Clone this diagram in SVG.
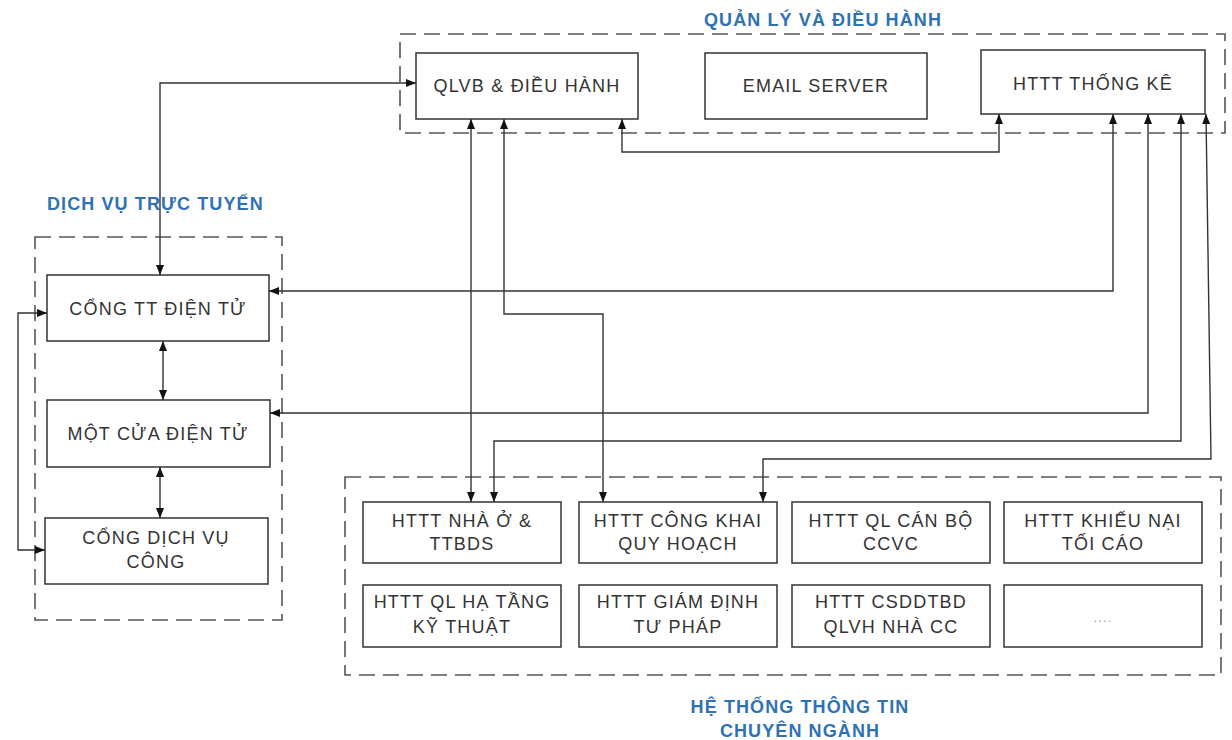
<svg xmlns="http://www.w3.org/2000/svg" width="1232" height="740" viewBox="0 0 1232 740">
<style>
.grp{fill:none;stroke:#555;stroke-width:1.6;stroke-dasharray:16 8}
.box{fill:#fff;stroke:#333;stroke-width:1.5}
.t{font-family:"Liberation Sans",Arial,sans-serif;font-size:18px;fill:#333;text-anchor:middle;letter-spacing:1.2px}
.ttl{font-family:"Liberation Sans",Arial,sans-serif;font-size:18px;font-weight:bold;fill:#2f72b4;letter-spacing:1.1px}
.c{fill:none;stroke:#333;stroke-width:1.4;marker-start:url(#a);marker-end:url(#a)}
</style>
<defs>
<marker id="a" viewBox="0 0 10 8" refX="10" refY="4" markerWidth="10" markerHeight="8" markerUnits="userSpaceOnUse" orient="auto-start-reverse">
<path d="M0,0 L10,4 L0,8 z" fill="#111"/>
</marker>
</defs>
<rect width="1232" height="740" fill="#fff"/>

<g id="group-quanly">
<rect class="grp" x="400" y="34" width="825" height="99"/>
<text class="ttl" x="823" y="26" text-anchor="middle">QUẢN LÝ VÀ ĐIỀU HÀNH</text>
</g>
<g id="group-dichvu">
<rect class="grp" x="35" y="237" width="247" height="383"/>
<text class="ttl" x="47" y="210">DỊCH VỤ TRỰC TUYẾN</text>
</g>
<g id="group-htttcn">
<rect class="grp" x="345" y="477" width="876" height="198"/>
<text class="ttl" x="800" y="713" text-anchor="middle">HỆ THỐNG THÔNG TIN</text>
<text class="ttl" x="800" y="737" text-anchor="middle">CHUYÊN NGÀNH</text>
</g>

<g id="node-qlvb"><rect class="box" x="416" y="53" width="222" height="66"/><text class="t" x="527" y="92">QLVB &amp; ĐIỀU HÀNH</text></g>
<g id="node-email"><rect class="box" x="705" y="53" width="222" height="66"/><text class="t" x="816" y="92">EMAIL SERVER</text></g>
<g id="node-thongke"><rect class="box" x="981" y="50" width="224" height="64"/><text class="t" x="1093" y="90">HTTT THỐNG KÊ</text></g>

<g id="node-congtt"><rect class="box" x="47" y="275" width="222" height="66"/><text class="t" x="158" y="315">CỔNG TT ĐIỆN TỬ</text></g>
<g id="node-motcua"><rect class="box" x="47" y="400" width="223" height="67"/><text class="t" x="158" y="440">MỘT CỬA ĐIỆN TỬ</text></g>
<g id="node-congdvc"><rect class="box" x="45" y="518" width="223" height="66"/><text class="t" x="156" y="544">CỔNG DỊCH VỤ</text><text class="t" x="156" y="568">CÔNG</text></g>

<g id="node-nhao"><rect class="box" x="363" y="502" width="198" height="61"/><text class="t" x="462" y="527">HTTT NHÀ Ở &amp;</text><text class="t" x="462" y="550">TTBDS</text></g>
<g id="node-congkhai"><rect class="box" x="579" y="502" width="198" height="61"/><text class="t" x="678" y="527">HTTT CÔNG KHAI</text><text class="t" x="678" y="550">QUY HOẠCH</text></g>
<g id="node-canbo"><rect class="box" x="792" y="502" width="198" height="61"/><text class="t" x="891" y="527">HTTT QL CÁN BỘ</text><text class="t" x="891" y="550">CCVC</text></g>
<g id="node-khieunai"><rect class="box" x="1004" y="502" width="198" height="61"/><text class="t" x="1103" y="527">HTTT KHIẾU NẠI</text><text class="t" x="1103" y="550">TỐI CÁO</text></g>
<g id="node-hatang"><rect class="box" x="363" y="585" width="198" height="62"/><text class="t" x="462" y="608">HTTT QL HẠ TẦNG</text><text class="t" x="462" y="633">KỸ THUẬT</text></g>
<g id="node-giamdinh"><rect class="box" x="579" y="585" width="198" height="62"/><text class="t" x="678" y="608">HTTT GIÁM ĐỊNH</text><text class="t" x="678" y="633">TƯ PHÁP</text></g>
<g id="node-csdl"><rect class="box" x="792" y="585" width="198" height="62"/><text class="t" x="891" y="608">HTTT CSDDTBD</text><text class="t" x="891" y="633">QLVH NHÀ CC</text></g>
<g id="node-more"><rect class="box" x="1004" y="585" width="198" height="62"/><text class="t" x="1103" y="622" style="font-size:13px;fill:#999">....</text></g>

<g id="connectors">
<path class="c" d="M416,83 H160 V275"/>
<path class="c" d="M471,119 V502"/>
<path class="c" d="M504,119 V314 H603 V502"/>
<path class="c" d="M622,119 V152 H999 V114"/>
<path class="c" d="M1113,114 V291 H269"/>
<path class="c" d="M1148,114 V413 H270"/>
<path class="c" d="M1181,114 V441 H494 V502"/>
<path class="c" d="M1206,114 L1211,459 H763 V502"/>
<path class="c" d="M163,341 V400"/>
<path class="c" d="M160,467 V518"/>
<path class="c" d="M47,313 H18 V550 H45"/>
</g>
</svg>
